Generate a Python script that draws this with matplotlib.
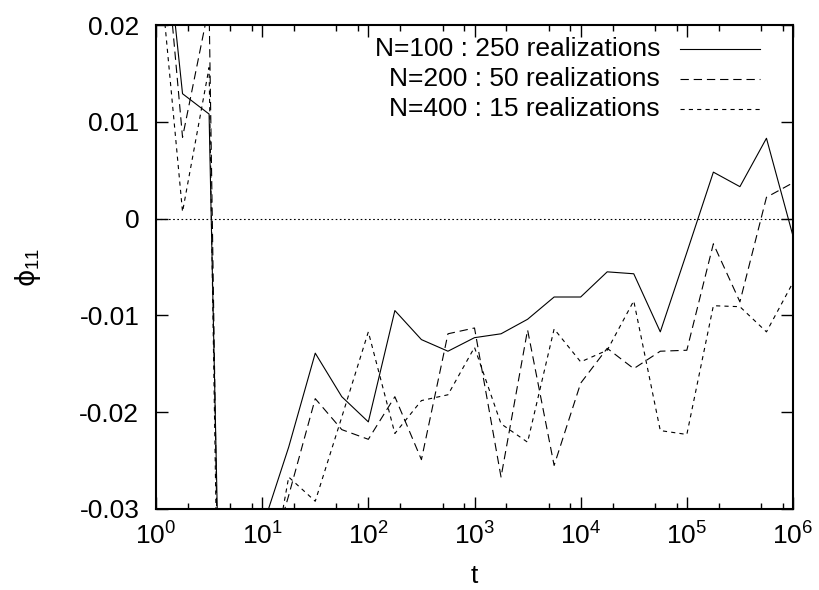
import matplotlib
matplotlib.use("Agg")
import matplotlib.pyplot as plt
from matplotlib.lines import Line2D
from matplotlib.ticker import LogLocator, NullFormatter, FixedLocator, FixedFormatter

plt.rcParams['font.family'] = ['Liberation Sans', 'DejaVu Sans']
plt.rcParams['axes.unicode_minus'] = False
plt.rcParams['lines.scale_dashes'] = False

# time points (quarter decades)
t = [1.0, 1.778, 3.162, 5.623, 10.0, 17.78, 31.62, 56.23, 100.0, 177.8, 316.2, 562.3,
     1000.0, 1778.0, 3162.0, 5623.0, 10000.0, 17780.0, 31620.0, 56230.0,
     100000.0, 177800.0, 316200.0, 562300.0, 1000000.0]

phi_n100 = [0.039, 0.0129, 0.0108, -0.122, -0.032, -0.0236, -0.0139, -0.0184, -0.0210,
            -0.0095, -0.0125, -0.0137, -0.0123, -0.0119, -0.0104, -0.0081, -0.0081,
            -0.0055, -0.0057, -0.0117, -0.0035, 0.0048, 0.0033, 0.0083, -0.0018]

phi_n200 = [0.039, 0.0084, 0.022, -0.16, -0.038, -0.0286, -0.0186, -0.0218, -0.0228,
            -0.0184, -0.0249, -0.0119, -0.0113, -0.0267, -0.0115, -0.0255, -0.0170,
            -0.0134, -0.0155, -0.0137, -0.0136, -0.0026, -0.0086, 0.0022, 0.0037]

phi_n400 = [0.030, 0.0007, 0.0156, -0.16, -0.042, -0.0267, -0.0292, -0.0205, -0.0117,
            -0.0222, -0.0188, -0.0182, -0.0133, -0.0212, -0.0231, -0.0114, -0.0148,
            -0.0136, -0.0085, -0.0219, -0.0223, -0.0090, -0.0091, -0.0117, -0.0066]

labels = ["N=100 : 250 realizations", "N=200 : 50 realizations", "N=400 : 15 realizations"]

ytick_vals = [-0.03, -0.02, -0.01, 0.0, 0.01, 0.02]
ytick_labels = ["-0.03", "-0.02", "-0.01", "0", "0.01", "0.02"]

FS = 19
W, H = 819, 590

fig = plt.figure(figsize=(8.19, 5.90), dpi=100)
ax = fig.add_axes([156/W, 1-509/H, (793-156)/W, (509-25)/H])

styles = [dict(), dict(dashes=(6, 3.5)), dict(dashes=(3, 3))]

ax.axhline(0, color='black', lw=0.8, dashes=(1.2, 1.8))
series = [phi_n100, phi_n200, phi_n400]
for ys, st, lab in zip(series, styles, labels):
    ax.plot(t, ys, color='black', lw=0.8, label=lab, **st)

ax.set_xscale('log')
ax.set_xlim(1, 1e6)
ax.set_ylim(-0.03, 0.02)
ax.xaxis.set_major_locator(LogLocator(base=10, numticks=10))
ax.xaxis.set_minor_locator(LogLocator(base=10, subs=[2, 5, 8], numticks=20))
ax.xaxis.set_minor_formatter(NullFormatter())
ax.yaxis.set_major_locator(FixedLocator(ytick_vals))
ax.yaxis.set_major_formatter(FixedFormatter(ytick_labels))

ax.tick_params(which='both', direction='in', top=True, right=True, width=1.0, labelsize=FS)
ax.tick_params(which='major', length=8.6)
ax.tick_params(which='minor', length=4.3)
ax.tick_params(axis='y', pad=12)
ax.tick_params(axis='x', pad=10)
for s in ax.spines.values():
    s.set_linewidth(1.5)

ax.set_xlabel('t', fontsize=FS, labelpad=10)
yl = ax.set_ylabel(r'$\mathrm{\phi}_{\mathdefault{11}}$', fontsize=FS, labelpad=26)
yl.set_math_fontfamily('dejavusans')

# key: right-aligned labels with line samples to their right
for i, (lab, st) in enumerate(zip(labels, styles)):
    yc = 1 - (49 + 30*i)/H
    fig.text(660/W, yc, lab, ha='right', va='center', fontsize=FS)
    fig.add_artist(Line2D([680/W, 760/W], [yc, yc], transform=fig.transFigure,
                          color='black', lw=0.8, **st))

fig.savefig('out.png', dpi=100)
